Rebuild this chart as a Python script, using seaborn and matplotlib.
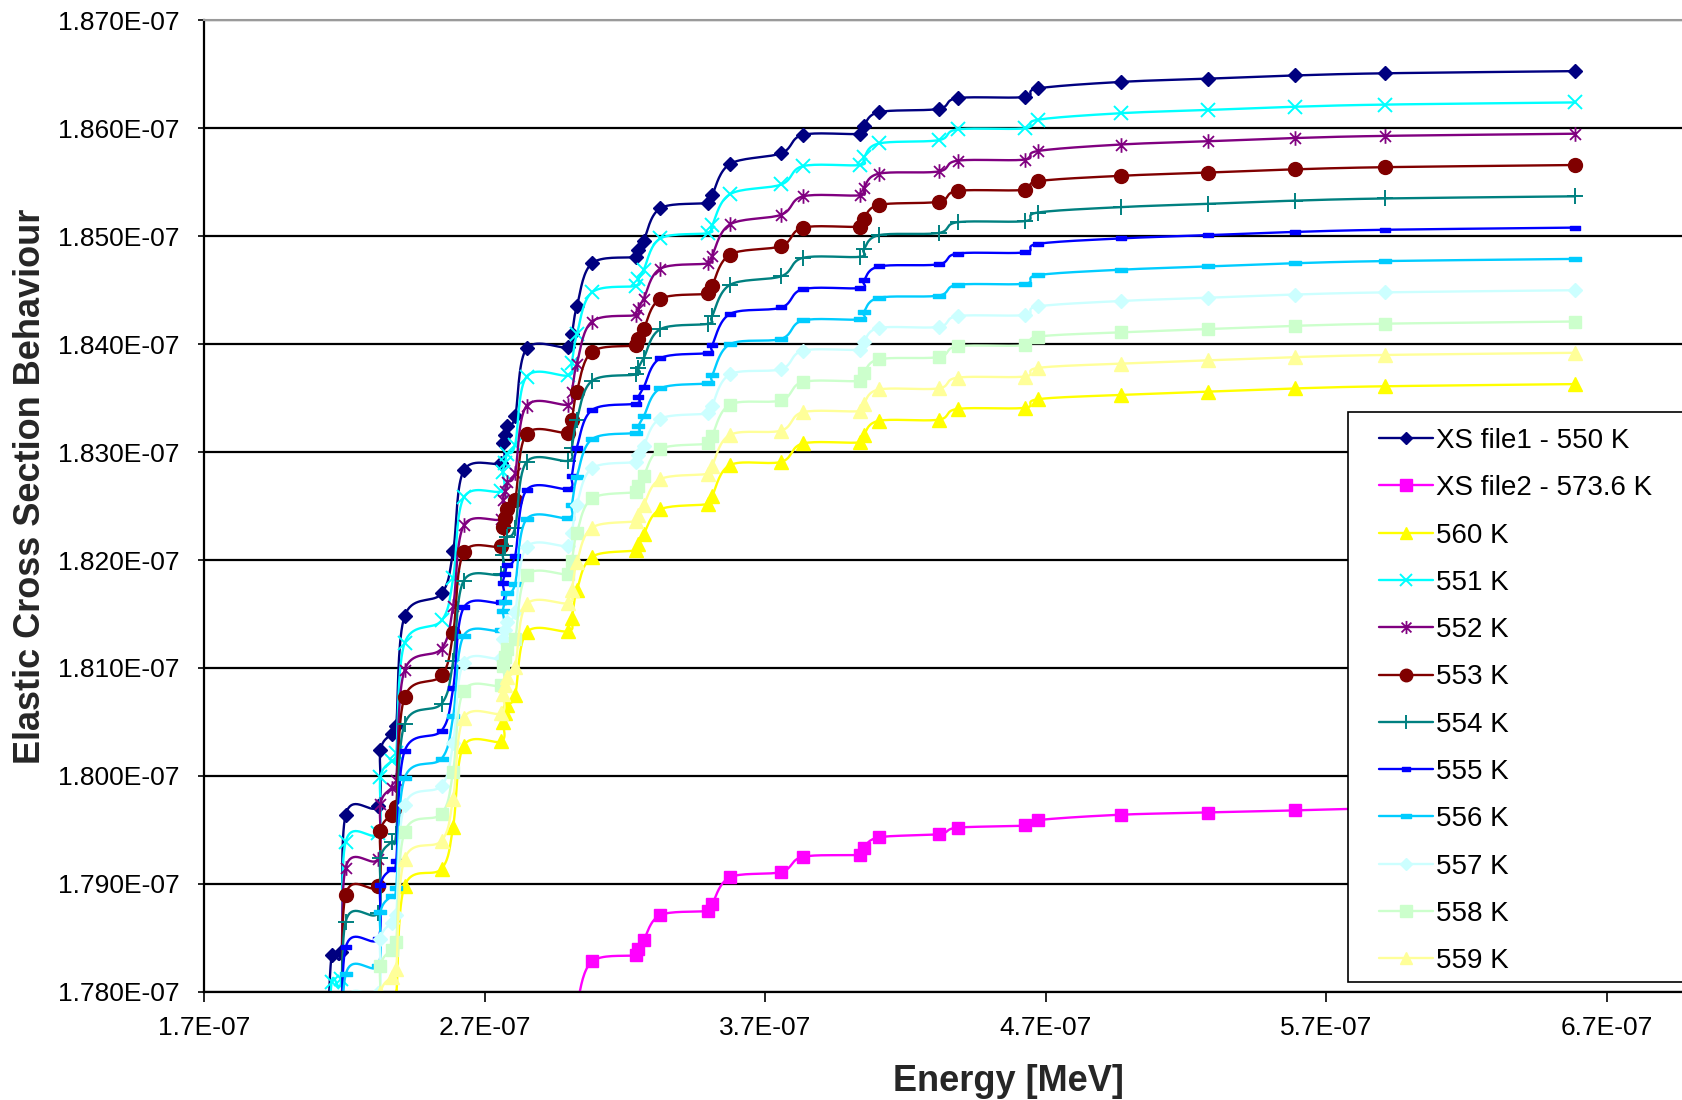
import numpy as np
import matplotlib
matplotlib.use("Agg")
import matplotlib.pyplot as plt
import seaborn as sns
from matplotlib.path import Path
from matplotlib.lines import Line2D
from matplotlib.patches import Rectangle
from matplotlib.ticker import FixedLocator, FuncFormatter

# ---------------------------------------------------------------------------
# Data: energy grid in units of 1E-07 MeV, cross sections in units of 1E-10
# ---------------------------------------------------------------------------
energy = [2.140, 2.155, 2.190, 2.205, 2.320, 2.329, 2.369, 2.385, 2.415, 2.547,
          2.588, 2.626, 2.760, 2.765, 2.773, 2.781, 2.809, 2.850, 2.999, 3.011,
          3.029, 3.083, 3.240, 3.248, 3.267, 3.327, 3.498, 3.511, 3.575, 3.758,
          3.835, 4.039, 4.052, 4.106, 4.318, 4.386, 4.625, 4.673, 4.967, 5.277,
          5.589, 5.910, 6.587]

xs_550 = [1775.0, 1783.4, 1783.7, 1796.4, 1797.2, 1802.4, 1803.9, 1804.6, 1814.8, 1816.9,
          1820.8, 1828.3, 1829.0, 1830.8, 1831.6, 1832.4, 1833.3, 1839.6, 1839.7, 1840.9,
          1843.5, 1847.5, 1848.1, 1848.7, 1849.6, 1852.6, 1853.1, 1853.8, 1856.7, 1857.7,
          1859.4, 1859.5, 1860.2, 1861.5, 1861.8, 1862.8, 1862.9, 1863.7, 1864.3, 1864.6,
          1864.9, 1865.1, 1865.3]

xs_551 = [1772.5, 1780.9, 1781.2, 1793.9, 1794.7, 1799.9, 1801.4, 1802.1, 1812.3, 1814.4,
          1818.3, 1825.8, 1826.4, 1828.2, 1829.0, 1829.8, 1830.7, 1837.0, 1837.1, 1838.3,
          1840.9, 1844.8, 1845.4, 1846.0, 1846.9, 1849.8, 1850.3, 1851.0, 1853.9, 1854.8,
          1856.5, 1856.6, 1857.3, 1858.6, 1858.9, 1859.9, 1860.0, 1860.8, 1861.4, 1861.7,
          1862.0, 1862.2, 1862.4]

xs_552 = [1770.1, 1778.5, 1778.8, 1791.5, 1792.3, 1797.4, 1798.9, 1799.6, 1809.8, 1811.8,
          1815.7, 1823.2, 1823.8, 1825.6, 1826.4, 1827.2, 1828.1, 1834.3, 1834.4, 1835.6,
          1838.2, 1842.1, 1842.7, 1843.3, 1844.2, 1847.0, 1847.5, 1848.2, 1851.1, 1852.0,
          1853.7, 1853.8, 1854.5, 1855.8, 1856.0, 1857.0, 1857.1, 1857.9, 1858.5, 1858.8,
          1859.1, 1859.3, 1859.5]

xs_553 = [1767.6, 1776.0, 1776.3, 1789.0, 1789.8, 1794.9, 1796.4, 1797.1, 1807.3, 1809.3,
          1813.2, 1820.7, 1821.3, 1823.1, 1823.9, 1824.7, 1825.6, 1831.7, 1831.8, 1833.0,
          1835.6, 1839.3, 1839.9, 1840.5, 1841.4, 1844.2, 1844.7, 1845.4, 1848.3, 1849.1,
          1850.8, 1850.9, 1851.6, 1852.9, 1853.2, 1854.2, 1854.3, 1855.1, 1855.6, 1855.9,
          1856.2, 1856.4, 1856.6]

xs_554 = [1765.1, 1773.5, 1773.8, 1786.5, 1787.3, 1792.4, 1793.9, 1794.6, 1804.8, 1806.7,
          1810.6, 1818.1, 1818.7, 1820.5, 1821.3, 1822.1, 1823.0, 1829.1, 1829.2, 1830.4,
          1833.0, 1836.6, 1837.2, 1837.8, 1838.7, 1841.4, 1841.9, 1842.6, 1845.5, 1846.3,
          1848.0, 1848.1, 1848.8, 1850.1, 1850.3, 1851.3, 1851.4, 1852.2, 1852.7, 1853.0,
          1853.3, 1853.5, 1853.7]

xs_555 = [1762.7, 1771.1, 1771.4, 1784.1, 1784.9, 1789.9, 1791.4, 1792.1, 1802.3, 1804.2,
          1808.1, 1815.6, 1816.1, 1817.9, 1818.7, 1819.5, 1820.4, 1826.5, 1826.6, 1827.8,
          1830.4, 1833.9, 1834.5, 1835.1, 1836.0, 1838.7, 1839.2, 1839.9, 1842.8, 1843.4,
          1845.1, 1845.2, 1845.9, 1847.2, 1847.4, 1848.4, 1848.5, 1849.3, 1849.8, 1850.1,
          1850.4, 1850.6, 1850.8]

xs_556 = [1760.2, 1768.6, 1768.9, 1781.6, 1782.4, 1787.4, 1788.9, 1789.6, 1799.8, 1801.6,
          1805.5, 1813.0, 1813.5, 1815.3, 1816.1, 1816.9, 1817.8, 1823.8, 1823.9, 1825.1,
          1827.7, 1831.2, 1831.8, 1832.4, 1833.3, 1835.9, 1836.4, 1837.1, 1840.0, 1840.5,
          1842.2, 1842.3, 1843.0, 1844.3, 1844.5, 1845.5, 1845.6, 1846.4, 1846.9, 1847.2,
          1847.5, 1847.7, 1847.9]

xs_557 = [1757.7, 1766.1, 1766.4, 1779.1, 1779.9, 1784.9, 1786.4, 1787.1, 1797.3, 1799.1,
          1803.0, 1810.5, 1810.9, 1812.7, 1813.5, 1814.3, 1815.2, 1821.2, 1821.3, 1822.5,
          1825.1, 1828.5, 1829.1, 1829.7, 1830.6, 1833.1, 1833.6, 1834.3, 1837.2, 1837.7,
          1839.4, 1839.5, 1840.2, 1841.5, 1841.6, 1842.6, 1842.7, 1843.5, 1844.0, 1844.3,
          1844.6, 1844.8, 1845.0]

xs_558 = [1755.2, 1763.6, 1763.9, 1776.6, 1777.4, 1782.4, 1783.9, 1784.6, 1794.8, 1796.5,
          1800.4, 1807.9, 1808.4, 1810.2, 1811.0, 1811.8, 1812.7, 1818.6, 1818.7, 1819.9,
          1822.5, 1825.7, 1826.3, 1826.9, 1827.8, 1830.3, 1830.8, 1831.5, 1834.4, 1834.8,
          1836.5, 1836.6, 1837.3, 1838.6, 1838.8, 1839.8, 1839.9, 1840.7, 1841.1, 1841.4,
          1841.7, 1841.9, 1842.1]

xs_559 = [1752.8, 1761.2, 1761.5, 1774.2, 1775.0, 1779.9, 1781.4, 1782.1, 1792.3, 1794.0,
          1797.9, 1805.4, 1805.8, 1807.6, 1808.4, 1809.2, 1810.1, 1815.9, 1816.0, 1817.2,
          1819.8, 1823.0, 1823.6, 1824.2, 1825.1, 1827.5, 1828.0, 1828.7, 1831.6, 1832.0,
          1833.7, 1833.8, 1834.5, 1835.8, 1835.9, 1836.9, 1837.0, 1837.8, 1838.2, 1838.5,
          1838.8, 1839.0, 1839.2]

xs_560 = [1750.3, 1758.7, 1759.0, 1771.7, 1772.5, 1777.4, 1778.9, 1779.6, 1789.8, 1791.4,
          1795.3, 1802.8, 1803.2, 1805.0, 1805.8, 1806.6, 1807.5, 1813.3, 1813.4, 1814.6,
          1817.2, 1820.3, 1820.9, 1821.5, 1822.4, 1824.7, 1825.2, 1825.9, 1828.8, 1829.1,
          1830.8, 1830.9, 1831.6, 1832.9, 1833.0, 1834.0, 1834.1, 1834.9, 1835.3, 1835.6,
          1835.9, 1836.1, 1836.3]

energy_file2 = [2.999, 3.011, 3.029, 3.083, 3.240, 3.248, 3.267, 3.327, 3.498, 3.511,
                3.575, 3.758, 3.835, 4.039, 4.052, 4.106, 4.318, 4.386, 4.625, 4.673,
                4.967, 5.277, 5.589, 5.910, 6.587]
xs_file2 = [1775.0, 1776.2, 1778.8, 1782.8, 1783.4, 1784.0, 1784.8, 1787.1, 1787.5, 1788.1,
            1790.6, 1791.1, 1792.5, 1792.7, 1793.3, 1794.3, 1794.6, 1795.2, 1795.4, 1795.9,
            1796.4, 1796.6, 1796.8, 1797.0, 1797.2]

labels = ["XS file1 - 550 K", "XS file2 - 573.6 K", "560 K", "551 K", "552 K", "553 K",
          "554 K", "555 K", "556 K", "557 K", "558 K", "559 K"]
colors = ["#000080", "#FF00FF", "#FFFF00", "#00FFFF", "#800080", "#800000",
          "#008080", "#0000FF", "#00CCFF", "#CCFFFF", "#CCFFCC", "#FFFF99"]

x_ticks = [1.7, 2.7, 3.7, 4.7, 5.7, 6.7]
y_ticks = [1780, 1790, 1800, 1810, 1820, 1830, 1840, 1850, 1860, 1870]

E_UNIT = 1e-7
XS_UNIT = 1e-10

# ---------------------------------------------------------------------------
# Marker shapes
# ---------------------------------------------------------------------------
M, L, C = Path.MOVETO, Path.LINETO, Path.CLOSEPOLY
star_marker = Path([(0, -1), (0, 1), (-0.75, -0.75), (0.75, 0.75), (-0.75, 0.75), (0.75, -0.75)],
                   [M, L, M, L, M, L])
bar_marker = Path([(-1, -0.38), (1, -0.38), (1, 0.38), (-1, 0.38), (-1, -0.38)],
                  [M, L, L, L, C])

marker_styles = [
    dict(marker="D", ms=6.8, mew=1.0),
    dict(marker="s", ms=9.0, mew=1.0),
    dict(marker="^", ms=10.0, mew=1.0),
    dict(marker="x", ms=9.5, mew=1.4),
    dict(marker=star_marker, ms=10.5, mew=1.3),
    dict(marker="o", ms=10.0, mew=1.0),
    dict(marker="+", ms=11.0, mew=1.4),
    dict(marker=bar_marker, ms=7.0, mew=1.0),
    dict(marker=bar_marker, ms=8.5, mew=1.0),
    dict(marker="D", ms=6.8, mew=1.0),
    dict(marker="s", ms=9.0, mew=1.0),
    dict(marker="^", ms=10.0, mew=1.0),
]

series = [
    (energy, xs_550), (energy_file2, xs_file2), (energy, xs_560), (energy, xs_551),
    (energy, xs_552), (energy, xs_553), (energy, xs_554), (energy, xs_555),
    (energy, xs_556), (energy, xs_557), (energy, xs_558), (energy, xs_559),
]

# ---------------------------------------------------------------------------
# Figure
# ---------------------------------------------------------------------------
sns.set_theme(style="white")
plt.rcParams["font.family"] = ["Liberation Sans", "DejaVu Sans"]

W, H = 1683, 1100
fig = plt.figure(figsize=(W / 100, H / 100), dpi=100)
fig.patch.set_facecolor("white")

ax_left, ax_right, ax_top, ax_bottom = 204, 1812, 20.4, 991.7
ax = fig.add_axes([ax_left / W, 1 - ax_bottom / H, (ax_right - ax_left) / W, (ax_bottom - ax_top) / H])
ax.set_facecolor("white")

x_min = 1.7
x_max = 1.7 + (ax_right - ax_left) / 280.56
ax.set_xlim(x_min * E_UNIT, x_max * E_UNIT)
ax.set_ylim(y_ticks[0] * XS_UNIT, y_ticks[-1] * XS_UNIT)

ax.xaxis.set_major_locator(FixedLocator([v * E_UNIT for v in x_ticks]))
ax.yaxis.set_major_locator(FixedLocator([v * XS_UNIT for v in y_ticks]))
ax.xaxis.set_major_formatter(FuncFormatter(lambda v, p: f"{v:.1E}"))
ax.yaxis.set_major_formatter(FuncFormatter(lambda v, p: f"{v:.3E}"))

ax.yaxis.grid(True, color="black", lw=1.6)
ax.xaxis.grid(False)
ax.set_axisbelow(True)

for side in ("left", "bottom"):
    ax.spines[side].set_color("black")
    ax.spines[side].set_linewidth(1.6)
ax.spines["top"].set_color("#9a9a9a")
ax.spines["top"].set_linewidth(1.5)
ax.spines["right"].set_visible(False)

ax.tick_params(axis="x", bottom=True, direction="out", length=7.5, width=1.2,
               pad=10, labelsize=19, colors="black")
ax.tick_params(axis="y", left=True, direction="out", length=4.5, width=1.2,
               pad=13, labelsize=19, colors="black")


def excel_smooth(axis, x, y, n=18):
    """Bezier smoothing in screen space, like a spreadsheet 'smoothed line'."""
    pts = axis.transData.transform(np.column_stack([x, y]))
    P = np.vstack([pts[0], pts, pts[-1]])
    t = np.linspace(0, 1, n, endpoint=False)[:, None]
    segs = []
    for i in range(len(pts) - 1):
        p0, p1, p2, p3 = P[i], P[i + 1], P[i + 2], P[i + 3]
        c1 = p1 + (p2 - p0) / 6.0
        c2 = p2 - (p3 - p1) / 6.0
        segs.append((1 - t) ** 3 * p1 + 3 * (1 - t) ** 2 * t * c1
                    + 3 * (1 - t) * t ** 2 * c2 + t ** 3 * p2)
    segs.append(pts[-1:])
    curve = axis.transData.inverted().transform(np.vstack(segs))
    return curve[:, 0], curve[:, 1]


for (ex, ys), col, st in zip(series, colors, marker_styles):
    xd = np.asarray(ex) * E_UNIT
    yd = np.asarray(ys) * XS_UNIT
    sx, sy = excel_smooth(ax, xd, yd)
    sns.lineplot(x=sx, y=sy, ax=ax, color=col, lw=1.7, sort=False,
                 estimator=None, legend=False)
    ax.plot(xd, yd, ls="none", marker=st["marker"], ms=st["ms"], mew=st["mew"],
            color=col, mec=col, mfc=col)

# Axis titles
fig.text(1008 / W, 1 - 1091 / H, "Energy [MeV]", ha="center", va="baseline",
         fontsize=26, fontweight="bold")
fig.text(31 / W, 1 - 486 / H, "Elastic Cross Section Behaviour", ha="center",
         va="center", rotation=90, fontsize=26, fontweight="bold")

# Legend box
box_left, box_top, box_bottom, box_right = 1348, 412, 982, 1800
fig.add_artist(Rectangle((box_left / W, 1 - box_bottom / H),
                         (box_right - box_left) / W, (box_bottom - box_top) / H,
                         transform=fig.transFigure, facecolor="white",
                         edgecolor="black", lw=1.2, zorder=5))
row0, row_step = 438, 47.3
for i, (lab, col, st) in enumerate(zip(labels, colors, marker_styles)):
    yc = 1 - (row0 + i * row_step) / H
    fig.add_artist(Line2D([1379 / W, 1433 / W], [yc, yc], transform=fig.transFigure,
                          color=col, lw=1.7, zorder=6))
    fig.add_artist(Line2D([1406 / W], [yc], transform=fig.transFigure, ls="none",
                          marker=st["marker"], ms=st["ms"] * 0.9, mew=st["mew"],
                          color=col, mec=col, mfc=col, zorder=7))
    fig.text(1436 / W, 1 - (row0 + i * row_step + 10) / H, lab, ha="left",
             va="baseline", fontsize=20, color="black", zorder=7)

fig.savefig("out.png", dpi=100)
